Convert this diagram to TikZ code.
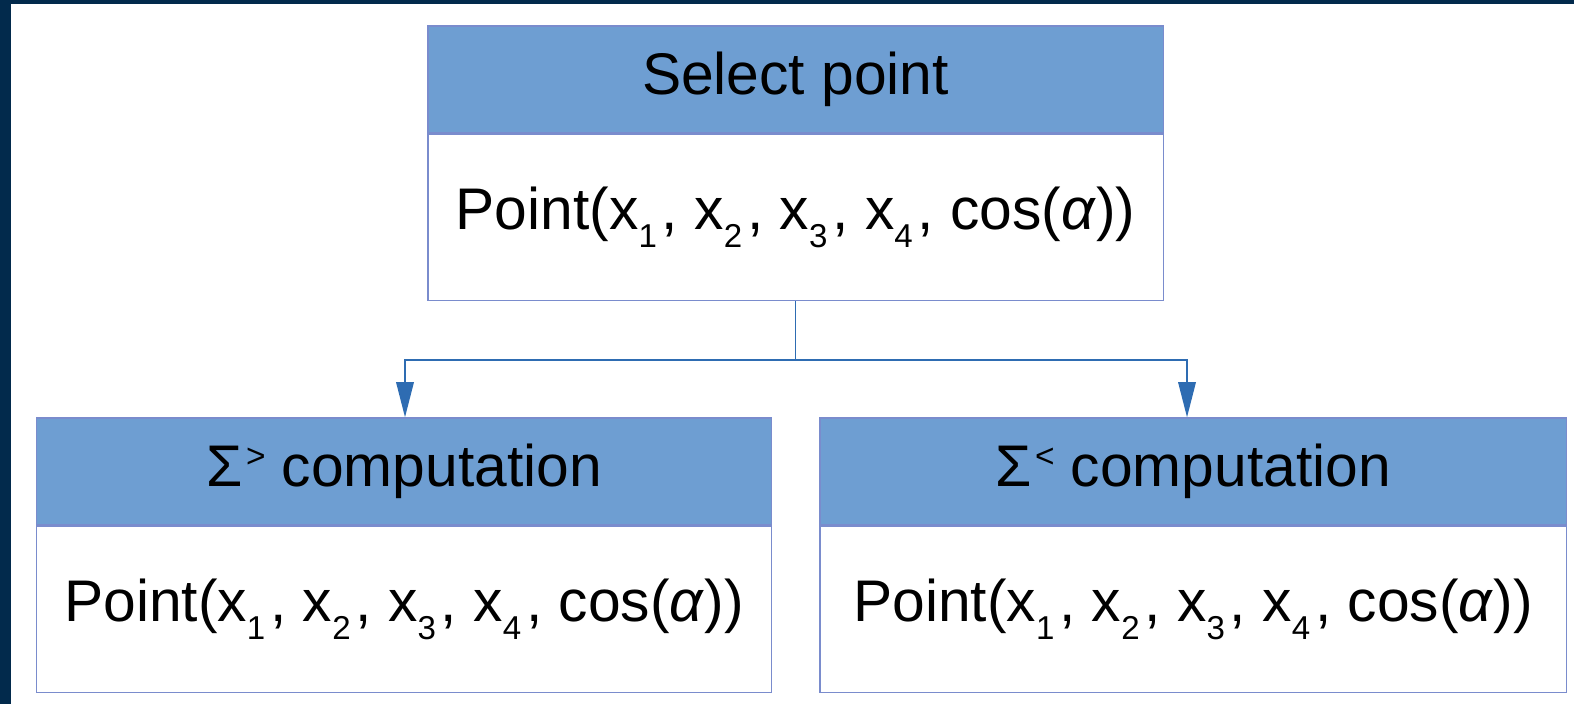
\documentclass[tikz,border=0pt]{standalone}
\usepackage{fontspec}
\setmainfont{Liberation Sans}
\usetikzlibrary{arrows.meta, positioning}

\definecolor{navybg}{RGB}{2,42,76}
\definecolor{headblue}{RGB}{110,158,210}
\definecolor{edgeblue}{RGB}{122,140,205}
\definecolor{arrowblue}{RGB}{46,108,178}

\newcommand{\lowidx}[1]{\raisebox{-5.1pt}{\fontsize{9.4}{10}\selectfont #1}\kern1.4pt}
\newcommand{\highmark}[1]{\kern1pt\raisebox{5.4pt}{\fontsize{9.5}{10}\selectfont #1}}
\newcommand{\pointtext}{Point(x\lowidx{1}, x\lowidx{2}, x\lowidx{3}, x\lowidx{4}, cos(\textit{α}))}

\begin{document}
\begin{tikzpicture}[
  x=0.01cm, y=-0.01cm,
  header/.style = {rectangle, fill=headblue, draw=edgeblue, line width=0.4pt,
                   minimum height=1.07cm, inner sep=0pt, align=center,
                   font=\fontsize{16.7}{20}\selectfont},
  body/.style   = {rectangle, fill=white, draw=edgeblue, line width=0.4pt,
                   minimum height=1.66cm, inner sep=0pt, align=center,
                   font=\fontsize{16.7}{20}\selectfont},
  arrow/.style  = {-{Triangle[length=10pt, width=5pt]}, draw=arrowblue,
                   line width=0.45pt},
  node distance = 0pt
]

% ── Frame ────────────────────────────────────────────────────────────────────
\fill[navybg] (0,0) rectangle (1574,704);
\fill[white] (11,4) rectangle (1574,704);
\useasboundingbox (0,0) rectangle (1574,704);

% ── Top box ──────────────────────────────────────────────────────────────────
\node[header, minimum width=7.35cm] (selhead) at (795.5,79.5) {Select point};
\node[body, minimum width=7.35cm, below=of selhead] (selbody) {\pointtext};

% ── Bottom boxes ─────────────────────────────────────────────────────────────
\node[header, minimum width=7.34cm] (gthead) at (404,471.5)
  {Σ\highmark{>} computation};
\node[body, minimum width=7.34cm, below=of gthead] (gtbody) {\pointtext};

\node[header, minimum width=7.46cm] (lthead) at (1193,471.5)
  {Σ\highmark{<} computation};
\node[body, minimum width=7.46cm, below=of lthead] (ltbody) {\pointtext};

% ── Connectors ───────────────────────────────────────────────────────────────
\coordinate (split) at (selbody.south |- 0,360);
\draw[draw=arrowblue, line width=0.45pt] (selbody.south) -- (split);
\draw[arrow] (split) -| ([xshift=0.01cm]gthead.north);
\draw[arrow] (split) -| ([xshift=-0.06cm]lthead.north);

\end{tikzpicture}
\end{document}
